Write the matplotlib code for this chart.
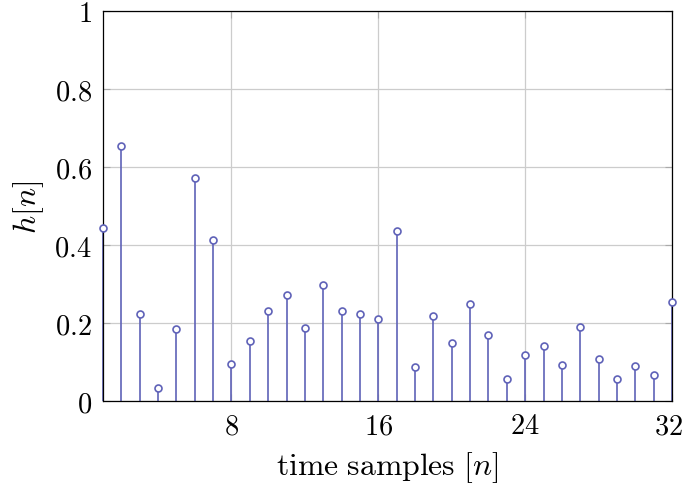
import matplotlib
matplotlib.use("Agg")
import matplotlib.pyplot as plt
import matplotlib.transforms as mtransforms

plt.rcParams['mathtext.fontset'] = 'cm'
plt.rcParams['font.family'] = 'serif'
plt.rcParams['font.serif'] = ['DejaVu Serif']

n_values = list(range(1, 33))
h_values = [0.443, 0.655, 0.223, 0.033, 0.184, 0.572, 0.414, 0.094,
            0.153, 0.232, 0.271, 0.186, 0.297, 0.231, 0.224, 0.209,
            0.436, 0.088, 0.219, 0.150, 0.250, 0.170, 0.057, 0.119,
            0.142, 0.092, 0.189, 0.109, 0.057, 0.091, 0.067, 0.253]
x_ticks = [8, 16, 24, 32]
y_ticks = [0, 0.2, 0.4, 0.6, 0.8, 1]
y_tick_labels = [r'$0$', r'$0.2$', r'$0.4$', r'$0.6$', r'$0.8$', r'$1$']

color = '#5f62b8'

fig = plt.figure(figsize=(6.85, 4.85), dpi=100)
ax = fig.add_axes([0.1504, 0.1711, 0.8306, 0.8042])

ml, sl, bl = ax.stem(n_values, h_values, basefmt=' ')
plt.setp(sl, color=color, linewidth=1.2, clip_on=False)
plt.setp(ml, marker='o', markersize=5, markerfacecolor='white',
         markeredgecolor=color, markeredgewidth=1.2, clip_on=False, zorder=5)

ax.set_xlim(1, 32)
ax.set_ylim(0, 1)
ax.set_xticks(x_ticks)
ax.set_xticklabels([r'$%d$' % t for t in x_ticks])
ax.set_yticks(y_ticks)
ax.set_yticklabels(y_tick_labels)
ax.grid(True, color='#cccccc', linewidth=0.9)
ax.set_axisbelow(True)
ax.tick_params(direction='in', length=5, width=0.8, color='#aaaaaa',
               labelsize=20.5, pad=8, top=True, right=True)
for s in ax.spines.values():
    s.set_linewidth(0.9)
    s.set_color('black')

# keep last x tick label inside the figure
last = ax.get_xticklabels()[-1]
last.set_transform(last.get_transform() +
                   mtransforms.ScaledTranslation(-3 / 100, 0, fig.dpi_scale_trans))

ax.set_xlabel(r'$\mathrm{time\ samples}\ [n]$', fontsize=22.8, labelpad=7)
ax.set_ylabel(r'$h[n]$', fontsize=22.8, labelpad=6)

fig.savefig('out.png', dpi=100)
